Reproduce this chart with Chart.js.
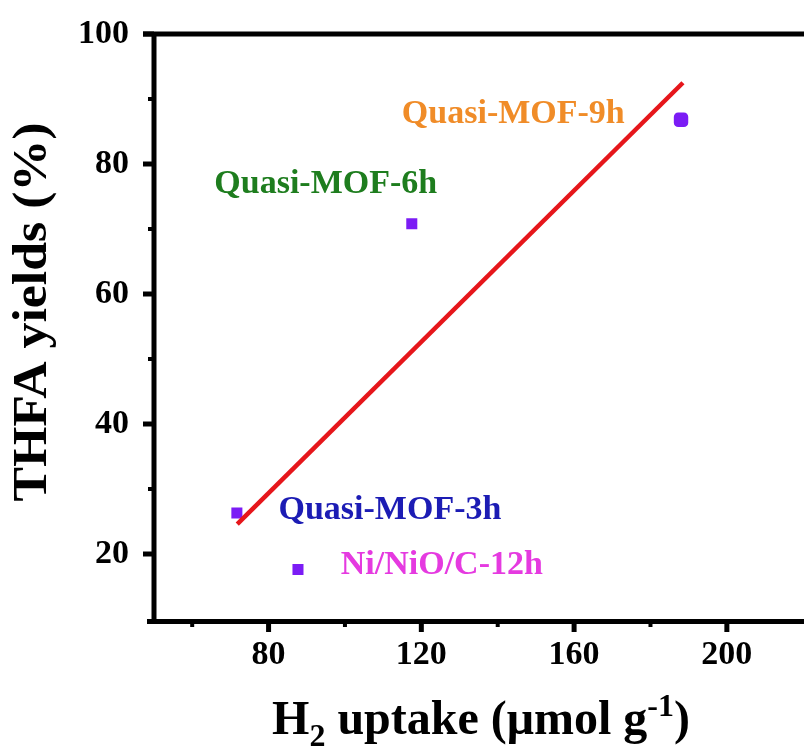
<!DOCTYPE html>
<html><head><meta charset="utf-8">
<script src="https://cdn.jsdelivr.net/npm/chart.js@4/dist/chart.umd.min.js"></script>
<style>html,body{margin:0;padding:0;background:#fff;overflow:hidden}#wrap{width:804px;height:747px;position:relative}</style>
</head><body><div id="wrap"><canvas id="c"></canvas></div>
<script>
// ---- data ----
const samples = ['Quasi-MOF-3h', 'Quasi-MOF-6h', 'Quasi-MOF-9h', 'Ni/NiO/C-12h'];
const h2Uptake = [71.7, 117.5, 188.0, 87.7];
const thfaYield = [26.3, 70.8, 86.8, 17.6];
const fitX = [71.8, 188.5];
const fitY = [24.6, 92.5];
const xMajorTicks = [80, 120, 160, 200];
const xMinorTicks = [60, 100, 140, 180];
const yMajorTicks = [20, 40, 60, 80, 100];
const yMinorTicks = [30, 50, 70, 90];
const labelAnchorX = [82.6, 65.8, 114.9, 98.9];
const labelAnchorY = [25.4, 75.5, 86.3, 16.9];
const labelColors = ['#1C1CB4', '#1E7D1E', '#F08C28', '#E53AE0'];

const SERIF = '"Liberation Serif", "Times New Roman", serif';

const decor = {
  id: 'decor',
  afterDraw(chart) {
    const ctx = chart.ctx, xs = chart.scales.x, ys = chart.scales.y, ca = chart.chartArea;
    ctx.save();
    ctx.strokeStyle = '#000';
    ctx.lineCap = 'butt';
    // frame
    ctx.lineWidth = 5;
    ctx.beginPath();
    ctx.moveTo(ca.left, ca.top - 2.5); ctx.lineTo(ca.left, ca.bottom + 5);
    ctx.moveTo(ca.left - 11, ca.top); ctx.lineTo(804, ca.top);
    ctx.moveTo(ca.left - 7, ca.bottom + 2.5); ctx.lineTo(804, ca.bottom + 2.5);
    ctx.stroke();
    // y ticks
    ctx.lineWidth = 5;
    yMajorTicks.forEach(v => { const p = ys.getPixelForValue(v); ctx.beginPath(); ctx.moveTo(ca.left - 11, p); ctx.lineTo(ca.left, p); ctx.stroke(); });
    ctx.lineWidth = 4;
    yMinorTicks.forEach(v => { const p = ys.getPixelForValue(v); ctx.beginPath(); ctx.moveTo(ca.left - 6, p); ctx.lineTo(ca.left, p); ctx.stroke(); });
    // x ticks
    ctx.lineWidth = 5;
    xMajorTicks.forEach(v => { const p = xs.getPixelForValue(v); ctx.beginPath(); ctx.moveTo(p, ca.bottom); ctx.lineTo(p, ca.bottom + 13); ctx.stroke(); });
    ctx.lineWidth = 4;
    xMinorTicks.forEach(v => { const p = xs.getPixelForValue(v); ctx.beginPath(); ctx.moveTo(p, ca.bottom); ctx.lineTo(p, ca.bottom + 8); ctx.stroke(); });
    // point labels
    ctx.font = 'bold 34px ' + SERIF;
    ctx.textAlign = 'left';
    ctx.textBaseline = 'alphabetic';
    samples.forEach((s, i) => {
      ctx.fillStyle = labelColors[i];
      ctx.fillText(s, xs.getPixelForValue(labelAnchorX[i]), ys.getPixelForValue(labelAnchorY[i]));
    });
    // y title
    ctx.fillStyle = '#000';
    ctx.save();
    ctx.translate(46, 312);
    ctx.rotate(-Math.PI / 2);
    ctx.scale(1.08, 1);
    ctx.font = 'bold 48px ' + SERIF;
    ctx.textAlign = 'center';
    ctx.fillText('THFA yields (%)', 0, 0);
    ctx.restore();
    // x title with sub/superscripts
    const big = 'bold 48px ' + SERIF, small = 'bold 32px ' + SERIF;
    const parts = [
      {t: 'H', f: big, dy: 0},
      {t: '2', f: small, dy: 12},
      {t: ' uptake (\u03BCmol g', f: big, dy: 0},
      {t: '-1', f: small, dy: -18},
      {t: ')', f: big, dy: 0}
    ];
    let total = 0;
    parts.forEach(p => { ctx.font = p.f; p.w = ctx.measureText(p.t).width; total += p.w; });
    let x = (ca.left + 808) / 2 - total / 2;
    const base = 734;
    ctx.textAlign = 'left';
    parts.forEach(p => { ctx.font = p.f; ctx.fillText(p.t, x, base + p.dy); x += p.w; });
    ctx.restore();
  }
};

new Chart(document.getElementById('c'), {
  type: 'scatter',
  data: {
    datasets: [
      {
        type: 'line',
        label: 'fit',
        data: fitX.map((x, i) => ({x, y: fitY[i]})),
        borderColor: '#E6161B',
        borderWidth: 4.5,
        pointRadius: 0,
        tension: 0,
        fill: false,
        order: 0
      },
      {
        label: 'samples',
        data: h2Uptake.map((x, i) => ({x, y: thfaYield[i]})),
        backgroundColor: '#7B1CF5',
        borderWidth: 0,
        pointStyle: ['rect', 'rect', 'rectRounded', 'rect'],
        pointRadius: [7.8, 7.8, 8.4, 7.8],
        pointHoverRadius: [7.8, 7.8, 8.4, 7.8],
        order: 1
      }
    ]
  },
  options: {
    responsive: true,
    maintainAspectRatio: false,
    animation: false,
    events: [],
    layout: {padding: {top: 34, right: 0, left: 0, bottom: 0}},
    plugins: {legend: {display: false}, tooltip: {enabled: false}},
    scales: {
      x: {
        type: 'linear', min: 50, max: 218,
        grid: {display: false, drawTicks: false, tickLength: 0},
        border: {display: false},
        afterBuildTicks: s => { s.ticks = xMajorTicks.map(v => ({value: v})); },
        afterFit: s => { s.height = 128; s.paddingLeft = 0; s.paddingRight = 0; },
        ticks: {color: '#000', font: {family: SERIF, size: 34, weight: 'bold'}, padding: 16, maxRotation: 0, autoSkip: false}
      },
      y: {
        type: 'linear', min: 10, max: 100,
        grid: {display: false, drawTicks: false, tickLength: 0},
        border: {display: false},
        afterBuildTicks: s => { s.ticks = yMajorTicks.map(v => ({value: v})); },
        afterFit: s => { s.width = 154; s.paddingTop = 0; s.paddingBottom = 0; },
        ticks: {color: '#000', font: {family: SERIF, size: 34, weight: 'bold'}, padding: 25, autoSkip: false}
      }
    }
  },
  plugins: [decor]
});
</script>
</body></html>
